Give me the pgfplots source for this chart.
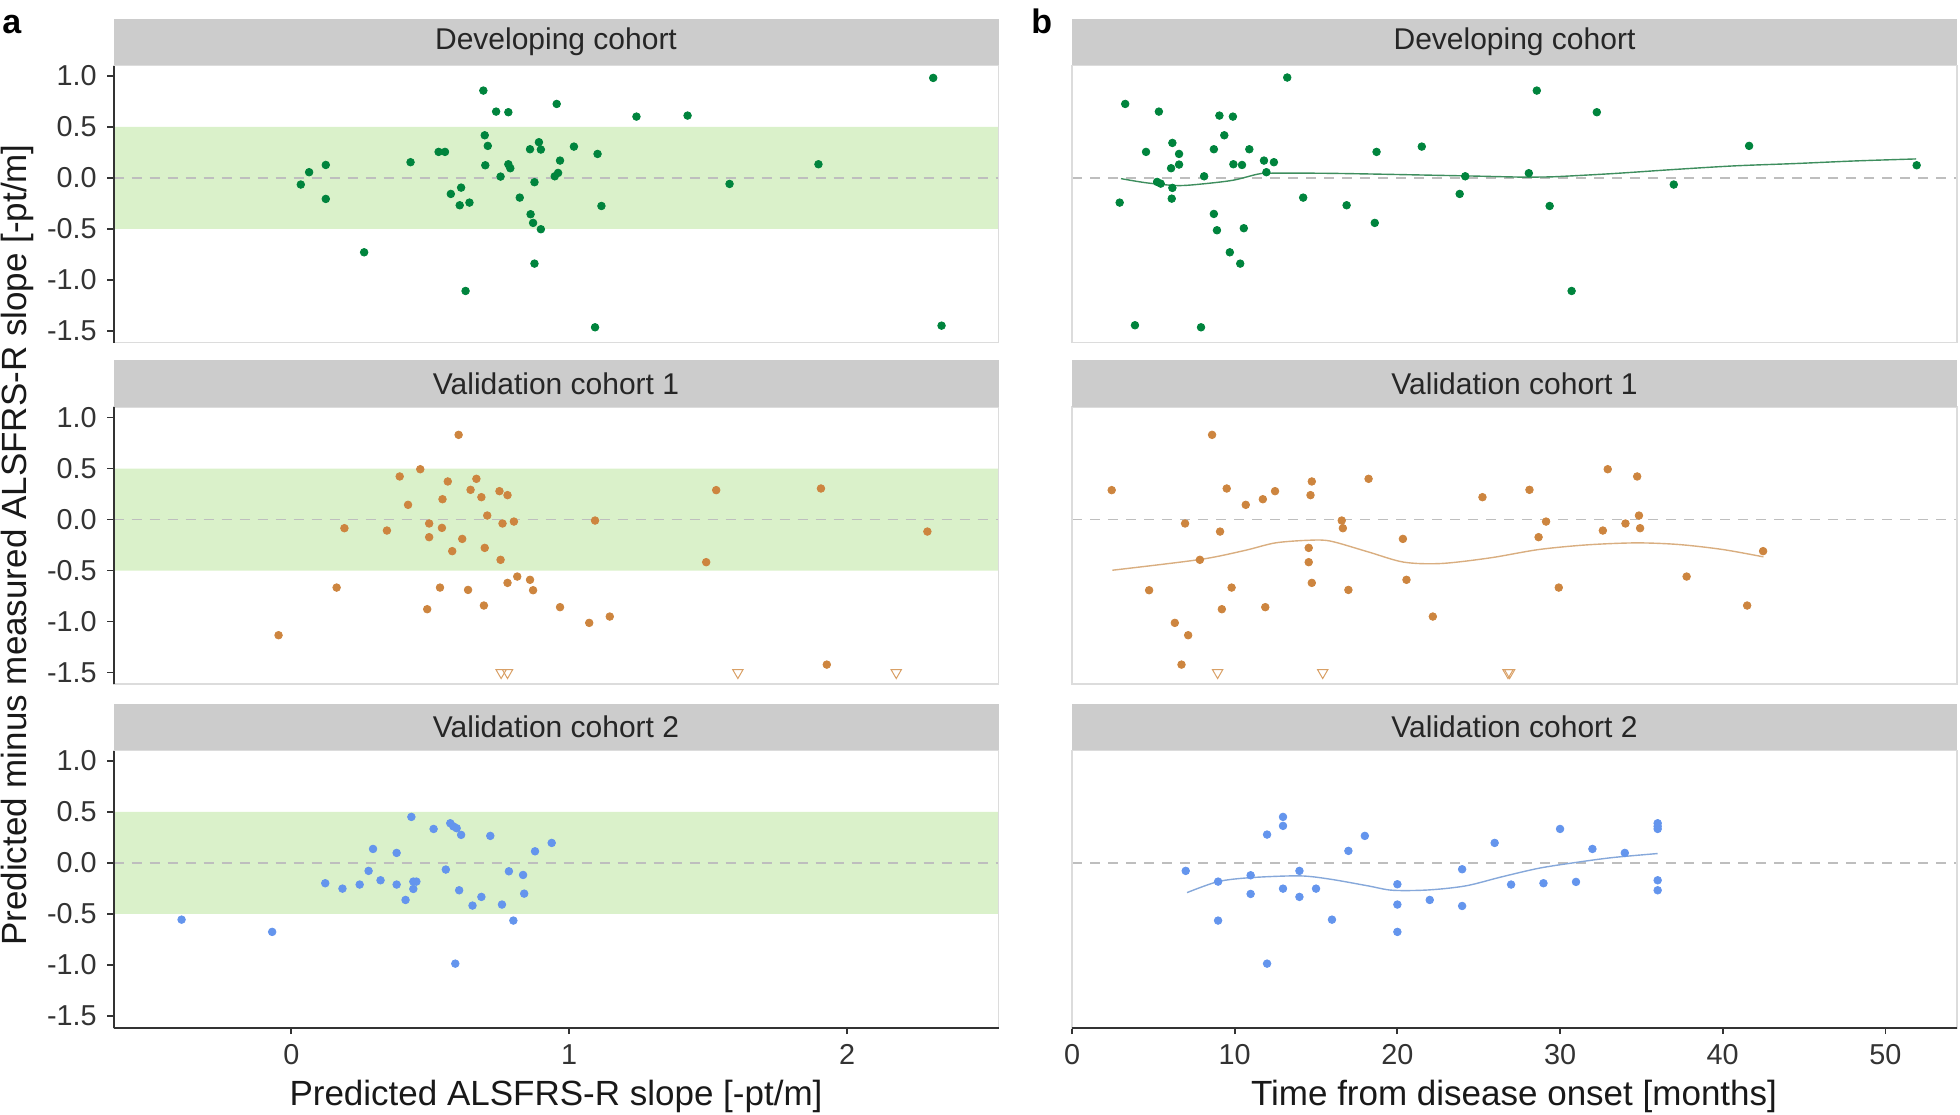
\documentclass[border=0pt]{standalone}
\usepackage{fontspec}
\setmainfont{Liberation Sans}
\usepackage{pgfplots}
\pgfplotsset{compat=1.18}

\definecolor{stripgray}{HTML}{CCCCCC}
\definecolor{bandgreen}{HTML}{DAF1CA}
\definecolor{framegray}{HTML}{DCDCDC}
\definecolor{axisdark}{HTML}{333333}
\definecolor{zerogray}{HTML}{BEBEBE}
\definecolor{devgreen}{HTML}{00843D}
\definecolor{valorange}{HTML}{CD853F}
\definecolor{valblue}{HTML}{6495ED}
\definecolor{devline}{HTML}{3E8E5E}
\definecolor{orgline}{HTML}{D9AE80}
\definecolor{blueline}{HTML}{86A8DA}
\definecolor{triorange}{HTML}{D9A066}

\pgfplotsset{
  every axis title shift=0pt,
  panel/.style={
    scale only axis, width=442.5pt, height=138.5pt, anchor=south west,
    ymin=-1.615, ymax=1.10,
    axis line style={draw=none},
    tick align=outside, major tick length=3.2pt,
    tick style={draw=axisdark, line width=0.9pt},
    xtick pos=bottom, ytick pos=left,
    ticklabel style={font=\fontsize{14.4}{14.4}\selectfont, text=black!80},
    yticklabel style={anchor=east, inner sep=0pt, xshift=-5pt},
    xticklabel style={anchor=north, inner sep=0pt, yshift=-5pt},
    title style={at={(0.5,1)}, anchor=south, yshift=0pt, fill=stripgray,
      minimum width=442.5pt, minimum height=23.3pt, inner sep=0pt,
      font=\fontsize{15}{15}\selectfont, text=black!85},
    clip=false,
  },
  leftcol/.style={xmin=-0.64, xmax=2.545,
    ytick={-1.5,-1,-0.5,0,0.5,1}, yticklabels={-1.5,-1.0,-0.5,0.0,0.5,1.0}},
  rightcol/.style={xmin=0, xmax=54.4, ytick=\empty},
  upper/.style={xtick=\empty},
  dot/.style={only marks, mark=*, mark size=1.9pt, color=#1},
  tri/.style={only marks, mark=triangle, mark size=3pt,
    mark options={rotate=180, draw=triorange, fill=white, line width=0.5pt}},
}

% band +-0.5 and dashed zero line between x limits
\newcommand{\band}[2]{%
  \addplot[fill=bandgreen, draw=none] coordinates {(#1,-0.5) (#2,-0.5) (#2,0.5) (#1,0.5) (#1,-0.5)};
  \addplot[zerogray, line width=0.7pt, dash pattern=on 5pt off 4pt] coordinates {(#1,0) (#2,0)};
}
\newcommand{\panelframe}{\draw[framegray, line width=0.8pt] (rel axis cs:0,0) rectangle (rel axis cs:1,1);}
\newcommand{\yaxisline}{\draw[axisdark, line width=1pt] (rel axis cs:0,0) -- (rel axis cs:0,1);}
\newcommand{\xaxisline}{\draw[axisdark, line width=1.1pt] (rel axis cs:0,0) -- (rel axis cs:1,0);}

\begin{document}
\begin{tikzpicture}
\path[use as bounding box] (0,0) rectangle (980pt,557pt);

% ---------------- a: developing cohort
\begin{axis}[panel, leftcol, upper, at={(56.75pt,385.65pt)}, title={Developing cohort}]
\band{-0.64}{2.545}
\addplot[dot=devgreen] coordinates {
(0.034,-0.065) (0.064,0.056) (0.124,0.127) (0.124,-0.206) (0.262,-0.729)
(0.429,0.154) (0.530,0.255) (0.553,0.255) (0.574,-0.157) (0.611,-0.095)
(0.606,-0.268) (0.641,-0.242) (0.627,-1.108) (0.691,0.856) (0.737,0.650)
(0.781,0.644) (0.696,0.418) (0.707,0.314) (0.698,0.124) (0.781,0.134)
(0.788,0.095) (0.753,0.013) (0.822,-0.193) (0.859,0.281) (0.891,0.350)
(0.898,0.278) (0.875,-0.042) (0.861,-0.356) (0.870,-0.441) (0.898,-0.503)
(0.875,-0.840) (0.955,0.725) (0.967,0.170) (0.948,0.016) (0.960,0.049)
(1.017,0.307) (1.102,0.235) (1.116,-0.275) (1.093,-1.464) (1.242,0.601)
(1.426,0.611) (1.577,-0.059) (1.897,0.134) (2.310,0.980) (2.340,-1.448)
};
\panelframe \yaxisline
\end{axis}

% ---------------- a: validation cohort 1
\begin{axis}[panel, leftcol, upper, at={(56.75pt,214.85pt)}, title={Validation cohort 1}]
\band{-0.64}{2.545}
\addplot[dot=valorange] coordinates {
(-0.046,-1.134) (0.163,-0.667) (0.191,-0.085) (0.344,-0.108) (0.390,0.422)
(0.420,0.144) (0.464,0.493) (0.496,-0.039) (0.496,-0.173) (0.489,-0.879)
(0.535,-0.667) (0.544,0.199) (0.542,-0.082) (0.563,0.373) (0.579,-0.310)
(0.602,0.830) (0.615,-0.190) (0.636,-0.690) (0.645,0.291) (0.666,0.399)
(0.684,0.219) (0.696,-0.278) (0.693,-0.843) (0.705,0.039) (0.749,0.278)
(0.778,0.239) (0.760,-0.039) (0.801,-0.020) (0.753,-0.395) (0.778,-0.621)
(0.813,-0.559) (0.859,-0.591) (0.870,-0.693) (0.967,-0.859) (1.072,-1.013)
(1.093,-0.010) (1.146,-0.951) (1.493,-0.418) (1.529,0.288) (1.906,0.304)
(1.927,-1.422) (2.289,-0.118)
};
\addplot[tri] coordinates {(0.755,-1.5) (0.778,-1.5) (1.607,-1.5) (2.177,-1.5)};
\panelframe \yaxisline
\end{axis}

% ---------------- a: validation cohort 2
\begin{axis}[panel, leftcol, at={(56.75pt,43.15pt)}, title={Validation cohort 2},
  xtick={0,1,2}, xticklabels={0,1,2}]
\band{-0.64}{2.545}
\addplot[dot=valblue] coordinates {
(-0.395,-0.556) (-0.069,-0.676) (0.122,-0.199) (0.184,-0.252) (0.246,-0.212)
(0.278,-0.078) (0.294,0.137) (0.321,-0.170) (0.379,0.098) (0.379,-0.212)
(0.411,-0.363) (0.432,0.451) (0.439,-0.183) (0.450,-0.183) (0.439,-0.255)
(0.512,0.333) (0.556,-0.065) (0.572,0.389) (0.583,0.359) (0.595,0.340)
(0.611,0.275) (0.604,-0.268) (0.590,-0.987) (0.652,-0.418) (0.684,-0.333)
(0.716,0.265) (0.758,-0.408) (0.783,-0.082) (0.799,-0.565) (0.834,-0.118)
(0.838,-0.301) (0.877,0.114) (0.937,0.196)
};
\panelframe \yaxisline \xaxisline
\end{axis}

% ---------------- b: developing cohort
\begin{axis}[panel, rightcol, upper, at={(536pt,385.65pt)}, title={Developing cohort}]
\addplot[zerogray, line width=0.7pt, dash pattern=on 5pt off 4pt] coordinates {(0,0) (54.4,0)};
\addplot[devline, line width=0.7pt, smooth] coordinates {
(3.01,-0.007) (4.62,-0.049) (6.50,-0.075) (8.01,-0.059) (9.89,-0.023)
(11.39,0.036) (12.14,0.046) (15.15,0.046) (18.16,0.039) (24.17,0.020)
(27.93,0.007) (29.44,0.010) (33.2,0.042) (36.95,0.082) (40.71,0.118)
(44.47,0.141) (48.23,0.167) (51.88,0.186)
};
\addplot[dot=devgreen] coordinates {
(2.93,-0.242) (3.27,0.725) (3.87,-1.444) (4.55,0.255) (5.34,0.650)
(5.23,-0.039) (5.45,-0.056) (6.17,0.343) (6.58,0.235) (6.58,0.131)
(6.09,0.095) (6.17,-0.098) (6.13,-0.203) (7.93,-1.464) (8.12,0.016)
(8.72,0.281) (9.06,0.611) (9.89,0.601) (9.36,0.418) (8.72,-0.353)
(8.91,-0.513) (9.92,0.134) (10.45,0.127) (10.90,0.281) (10.56,-0.493)
(9.70,-0.729) (10.34,-0.840) (11.80,0.170) (12.41,0.154) (11.95,0.056)
(13.23,0.984) (14.21,-0.193) (16.88,-0.268) (18.72,0.255) (18.61,-0.441)
(21.50,0.307) (23.83,-0.157) (24.17,0.016) (28.08,0.046) (28.57,0.856)
(29.36,-0.275) (30.71,-1.108) (32.26,0.644) (36.99,-0.065) (41.62,0.314)
(51.92,0.124)
};
\panelframe
\end{axis}

% ---------------- b: validation cohort 1
\begin{axis}[panel, rightcol, upper, at={(536pt,214.85pt)}, title={Validation cohort 1}]
\addplot[zerogray, line width=0.7pt, dash pattern=on 5pt off 4pt] coordinates {(0,0) (54.4,0)};
\addplot[orgline, line width=0.7pt, smooth] coordinates {
(2.48,-0.497) (7.86,-0.392) (10.6,-0.304) (12.5,-0.229) (14.6,-0.203)
(15.9,-0.212) (18.2,-0.317) (20.4,-0.418) (22.7,-0.431) (25.7,-0.376)
(28.7,-0.294) (31.7,-0.248) (34.7,-0.229) (37.3,-0.245) (40.0,-0.294)
(42.5,-0.366)
};
\addplot[dot=valorange] coordinates {
(2.44,0.288) (4.74,-0.693) (6.32,-1.013) (6.73,-1.422) (6.95,-0.039)
(7.14,-1.134) (7.86,-0.395) (8.61,0.830) (9.10,-0.118) (9.21,-0.879)
(9.51,0.304) (9.81,-0.667) (10.68,0.144) (11.73,0.199) (11.88,-0.859)
(12.48,0.278) (14.74,0.373) (14.66,0.239) (14.55,-0.278) (14.55,-0.418)
(14.74,-0.621) (16.58,-0.010) (16.65,-0.085) (16.99,-0.690) (18.23,0.399)
(20.34,-0.190) (20.56,-0.591) (22.18,-0.951) (25.23,0.219) (28.12,0.291)
(28.68,-0.173) (29.14,-0.020) (29.92,-0.667) (32.63,-0.108) (32.93,0.493)
(34.02,-0.039) (34.74,0.422) (34.85,0.039) (34.92,-0.085) (37.78,-0.559)
(41.50,-0.843) (42.48,-0.310)
};
\addplot[tri] coordinates {(8.95,-1.5) (15.41,-1.5) (26.8,-1.5) (26.9,-1.5)};
\panelframe
\end{axis}

% ---------------- b: validation cohort 2
\begin{axis}[panel, rightcol, at={(536pt,43.15pt)}, title={Validation cohort 2},
  xtick={0,10,20,30,40,50}, xticklabels={0,10,20,30,40,50}]
\addplot[zerogray, line width=0.7pt, dash pattern=on 5pt off 4pt] coordinates {(0,0) (54.4,0)};
\addplot[blueline, line width=0.7pt, smooth] coordinates {
(7.07,-0.291) (8.98,-0.183) (11.0,-0.144) (14.0,-0.127) (15.9,-0.160)
(18.2,-0.225) (19.7,-0.268) (21.9,-0.265) (24.2,-0.225) (26.4,-0.137)
(28.7,-0.052) (30.9,0.003) (33.2,0.052) (36.0,0.092)
};
\addplot[dot=valblue] coordinates {
(6.99,-0.078) (8.98,-0.183) (8.98,-0.565) (10.98,-0.121) (10.98,-0.304)
(11.99,0.278) (11.99,-0.987) (12.97,0.451) (12.97,0.363) (12.97,-0.252)
(13.98,-0.078) (13.98,-0.333) (15.0,-0.252) (15.98,-0.556) (16.99,0.118)
(18.0,0.265) (20.0,-0.209) (20.0,-0.408) (20.0,-0.676) (21.99,-0.363)
(23.98,-0.062) (23.98,-0.422) (25.98,0.196) (26.99,-0.212) (28.98,-0.199)
(30.0,0.333) (30.98,-0.186) (31.99,0.137) (33.98,0.098) (36.0,0.389)
(36.0,0.359) (36.0,0.333) (36.0,-0.170) (36.0,-0.268)
};
\panelframe \xaxisline
\end{axis}

% titles and panel letters
\node[rotate=90, font=\fontsize{17.5}{17.5}\selectfont, text=black!90] at (8.75pt,284.5pt)
  {Predicted minus measured ALSFRS-R slope [-pt/m]};
\node[anchor=base, font=\fontsize{17.5}{17.5}\selectfont, text=black!90] at (278pt,4.5pt)
  {Predicted ALSFRS-R slope [-pt/m]};
\node[anchor=base, font=\fontsize{17.5}{17.5}\selectfont, text=black!90] at (757pt,4.5pt)
  {Time from disease onset [months]};
\node[anchor=base west, inner sep=0pt, font=\fontsize{17}{17}\selectfont\bfseries] at (1pt,540pt) {a};
\node[anchor=base west, inner sep=0pt, font=\fontsize{17}{17}\selectfont\bfseries] at (515.5pt,540pt) {b};
\end{tikzpicture}
\end{document}
